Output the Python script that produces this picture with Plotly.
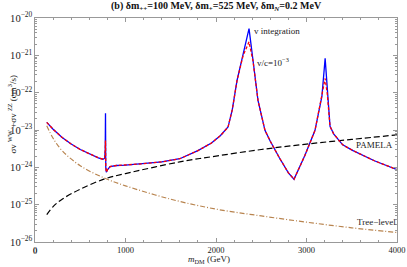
import plotly.graph_objects as go

# ---------------- data ----------------
mass_main = [130, 200, 300, 400, 500, 600, 700, 750, 770, 776, 779, 782, 788, 800, 830, 900,
             1000, 1200, 1400, 1600, 1800, 1950, 2050, 2133, 2180, 2232, 2300, 2365, 2409, 2464,
             2541, 2600, 2700, 2800, 2862, 2983, 3094, 3170, 3206, 3230, 3260, 3300, 3400,
             3514, 3750, 4000]
sv_integration = [1.6e-23, 1.05e-23, 6.3e-24, 4.2e-24, 3.0e-24, 2.3e-24, 1.8e-24, 1.65e-24, 1.75e-24,
                  3.0e-24, 2.8e-23, 1.0e-24, 7.4e-25, 8.5e-25, 1.05e-24, 1.12e-24,
                  1.15e-24, 1.25e-24, 1.4e-24, 1.7e-24, 2.8e-24, 4.5e-24, 7.1e-24, 1.2e-23, 3.5e-23,
                  2.1e-22, 1.1e-21, 5.2e-21, 7.4e-22, 6.2e-23,
                  9.8e-24, 5.0e-24, 1.8e-24, 7.1e-25, 4.8e-25, 2.1e-24, 9.8e-24, 7.9e-23, 8.3e-22,
                  1.0e-22, 1.25e-23, 7.9e-24, 4.0e-24,
                  2.8e-24, 1.5e-24, 8.7e-25]
sv_vc = [1.6e-23, 1.05e-23, 6.3e-24, 4.2e-24, 3.0e-24, 2.3e-24, 1.8e-24, 1.65e-24, 1.75e-24,
         3.0e-24, 5.2e-24, 1.0e-24, 7.4e-25, 8.5e-25, 1.05e-24, 1.12e-24,
         1.15e-24, 1.25e-24, 1.4e-24, 1.7e-24, 2.8e-24, 4.5e-24, 7.1e-24, 1.2e-23, 3.5e-23,
         2.1e-22, 1.0e-21, 2.3e-21, 7.0e-22, 6.2e-23,
         9.8e-24, 5.0e-24, 1.8e-24, 7.1e-25, 4.8e-25, 2.1e-24, 9.8e-24, 7.9e-23, 2.4e-22,
         9.0e-23, 1.25e-23, 7.9e-24, 4.0e-24,
         2.8e-24, 1.5e-24, 8.7e-25]

mass_pamela = [130, 200, 300, 500, 780, 1000, 1600, 2000, 2500, 3000, 3500, 4000]
sv_pamela = [5.4e-26, 8.9e-26, 1.4e-25, 2.6e-25, 5.0e-25, 6.8e-25, 1.4e-24, 2.0e-24, 3.0e-24,
             4.2e-24, 5.6e-24, 7.4e-24]

mass_tree = [130, 200, 300, 500, 780, 1000, 1500, 2000, 2500, 3000, 3500, 4000]
sv_tree = [1.3e-23, 6.0e-24, 2.8e-24, 1.1e-24, 5.0e-25, 3.2e-25, 1.4e-25, 7.6e-26, 5.0e-26,
           3.4e-26, 2.4e-26, 1.8e-26]

x_ticks = [0, 1000, 2000, 3000, 4000]

FONT = "Liberation Serif"

fig = go.Figure()
fig.add_trace(go.Scatter(x=mass_pamela, y=sv_pamela, mode="lines", line_shape="spline",
                         line=dict(color="black", width=1.2, dash="6px,3px")))
fig.add_trace(go.Scatter(x=mass_tree, y=sv_tree, mode="lines", line_shape="spline",
                         line=dict(color="#b8844f", width=1.2, dash="5px,2px,1px,2px")))
fig.add_trace(go.Scatter(x=mass_main, y=sv_integration, mode="lines",
                         line=dict(color="#0000ff", width=1.3)))
fig.add_trace(go.Scatter(x=mass_main, y=sv_vc, mode="lines",
                         line=dict(color="#ff0000", width=1.3, dash="3px,2px")))

axis_common = dict(showgrid=False, zeroline=False, showline=True, linecolor="#999999",
                   linewidth=1, mirror="allticks", ticks="inside", ticklen=4,
                   tickcolor="#999999", automargin=False,
                   tickfont=dict(family=FONT, size=8.5, color="#222222"))

fig.update_xaxes(range=[0, 4000], tickvals=x_ticks, ticktext=[str(v) for v in x_ticks],
                 minor=dict(ticks="inside", ticklen=2, dtick=200, tickcolor="#999999"),
                 **axis_common)
fig.update_yaxes(type="log", range=[-26, -20], dtick=1, exponentformat="power",
                 minor=dict(ticks="inside", ticklen=2, tickcolor="#999999"),
                 **axis_common)

# x-axis label at the origin (drawn explicitly, plotly skips it at the corner)
fig.add_annotation(x=0, y=0, xref="paper", yref="paper", yshift=-2, yanchor="top",
                   xanchor="center", text=str(x_ticks[0]), showarrow=False,
                   font=dict(family=FONT, size=8.5, color="#222222"))

ann_font = dict(family=FONT, size=9, color="#222222")
fig.add_annotation(x=2398, y=-20.36, xref="x", yref="y", text="v integration",
                   showarrow=False, xanchor="left", font=ann_font)
fig.add_annotation(x=2431, y=-21.19, xref="x", yref="y", text="v/c=10<sup>−3</sup>",
                   showarrow=False, xanchor="left", font=ann_font)
fig.add_annotation(x=3530, y=-23.41, xref="x", yref="y", text="PAMELA",
                   showarrow=False, xanchor="left", font=ann_font)
fig.add_annotation(x=3540, y=-25.46, xref="x", yref="y", text="Tree−level",
                   showarrow=False, xanchor="left", font=ann_font)
fig.add_annotation(x=0.48, y=-0.045, xref="paper", yref="paper",
                   text="<i>m</i><sub>DM</sub> (GeV)", showarrow=False, yanchor="top",
                   font=dict(family=FONT, size=9, color="#222222"))
fig.add_annotation(x=-0.085, y=0.57, xref="paper", yref="paper",
                   text="σv <sup>WW</sup> +σv <sup>ZZ</sup> (cm<sup>3</sup>/s)", textangle=-90,
                   showarrow=False, font=dict(family=FONT, size=9, color="#222222"))
fig.add_annotation(x=0.5, y=1.0, xref="paper", yref="paper", yshift=3,
                   text="<b>(b) δm<sub>++</sub>=100 MeV, δm<sub>+</sub>=525 MeV, δm<sub><i>N</i></sub>=0.2 MeV</b>",
                   showarrow=False, yanchor="bottom",
                   font=dict(family=FONT, size=10, color="#111111"))

fig.update_layout(width=407, height=267, margin=dict(l=35, r=10, t=18, b=25),
                  paper_bgcolor="white", plot_bgcolor="white", showlegend=False)

fig.write_html("out.html", config={"displayModeBar": False},
               post_script="document.body.style.margin='0';")
